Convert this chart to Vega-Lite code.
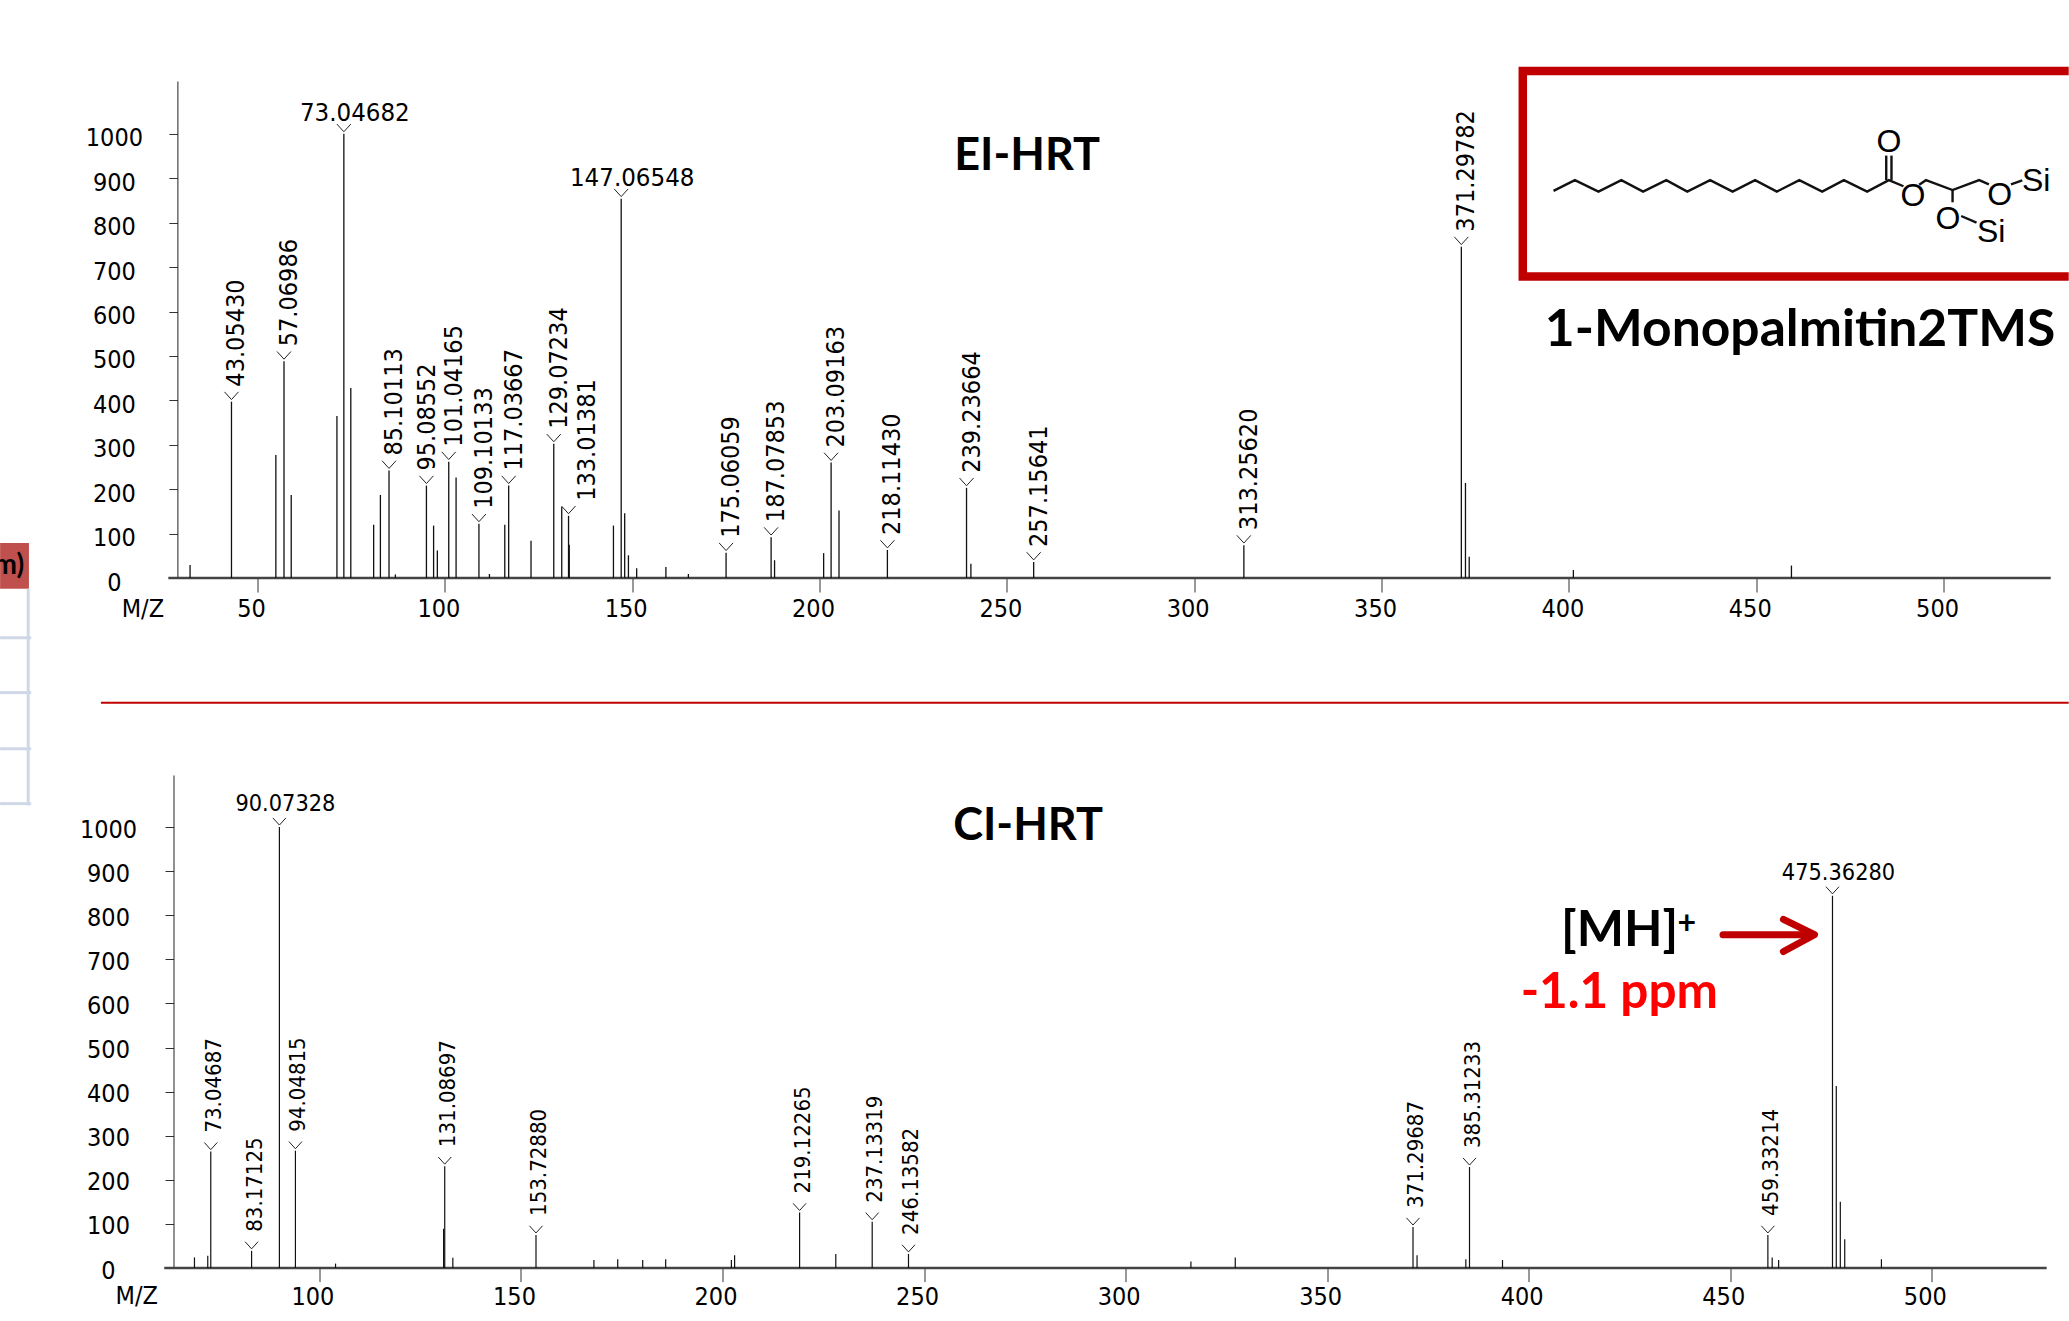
{
"$schema":"https://vega.github.io/schema/vega-lite/v6.json",
"background":"white",
"autosize":{"type":"none"},
"padding":{"left":173.5,"top":81,"right":1895.5,"bottom":1240},
"bounds":"flush",
"spacing":197,
"config":{"view":{"stroke":null},"axis":{"grid":false,"title":null,"labelColor":"#000","labelFont":"DejaVu Sans Condensed","labelFontSize":25,"labelOverlap":false,"labelFlush":false,"labelBaseline":"middle","format":"d"}},
"datasets":{
"top":[
{"mz":32,"int":29},{"mz":43.05430,"int":397,"label":"43.05430"},{"mz":54.9,"int":277},{"mz":57.06986,"int":488,"label":"57.06986"},{"mz":59,"int":187},{"mz":71.2,"int":365},{"mz":73.04682,"int":1000,"label":"73.04682"},{"mz":74.9,"int":428},{"mz":81,"int":120},{"mz":82.8,"int":187},{"mz":85.10113,"int":242,"label":"85.10113"},{"mz":86.8,"int":8},{"mz":95.08552,"int":208,"label":"95.08552"},{"mz":97,"int":118},{"mz":98,"int":62},{"mz":101.04165,"int":262,"label":"101.04165"},{"mz":103,"int":226},{"mz":109.10133,"int":122,"label":"109.10133"},{"mz":111.9,"int":9},{"mz":116,"int":120},{"mz":117.03667,"int":208,"label":"117.03667"},{"mz":123,"int":84},{"mz":129.07234,"int":302,"label":"129.07234"},{"mz":131.2,"int":160},{"mz":133.01381,"int":140,"label":"133.01381"},{"mz":133.2,"int":75},{"mz":145,"int":118},{"mz":147.06548,"int":854,"label":"147.06548"},{"mz":148,"int":146},{"mz":149,"int":51},{"mz":151.2,"int":22},{"mz":159,"int":25},{"mz":165,"int":9},{"mz":175.06059,"int":57,"label":"175.06059"},{"mz":187.07853,"int":92,"label":"187.07853"},{"mz":188,"int":40},{"mz":201.1,"int":56},{"mz":203.09163,"int":260,"label":"203.09163"},{"mz":205.2,"int":152},{"mz":218.1143,"int":63,"label":"218.11430"},{"mz":239.23664,"int":203,"label":"239.23664"},{"mz":240.4,"int":32},{"mz":257.15641,"int":36,"label":"257.15641"},{"mz":313.2562,"int":74,"label":"313.25620"},{"mz":371.29782,"int":746,"label":"371.29782"},{"mz":372.4,"int":214},{"mz":373.4,"int":48},{"mz":401.2,"int":18},{"mz":459.4,"int":28}
],
"bottom":[
{"mz":69,"int":24},{"mz":72.3,"int":28},{"mz":73.04687,"int":264,"label":"73.04687"},{"mz":83.17125,"int":39,"label":"83.17125"},{"mz":90.07328,"int":1000,"label":"90.07328"},{"mz":94.04815,"int":266,"label":"94.04815"},{"mz":104,"int":10},{"mz":130.8,"int":89},{"mz":131.08697,"int":231,"label":"131.08697"},{"mz":133.1,"int":23},{"mz":153.7288,"int":75,"label":"153.72880"},{"mz":168.1,"int":18},{"mz":174,"int":20},{"mz":180.2,"int":18},{"mz":185.9,"int":20},{"mz":202.2,"int":18},{"mz":203,"int":29},{"mz":219.12265,"int":126,"label":"219.12265"},{"mz":228.1,"int":32},{"mz":237.13319,"int":105,"label":"237.13319"},{"mz":246.13582,"int":32,"label":"246.13582"},{"mz":316.2,"int":15},{"mz":327.2,"int":24},{"mz":371.29687,"int":93,"label":"371.29687"},{"mz":372.3,"int":29},{"mz":384.4,"int":20},{"mz":385.31233,"int":229,"label":"385.31233"},{"mz":393.5,"int":18},{"mz":459.33214,"int":75,"label":"459.33214"},{"mz":460.4,"int":24},{"mz":462,"int":18},{"mz":475.3628,"int":844,"label":"475.36280"},{"mz":476.3,"int":413},{"mz":477.3,"int":150},{"mz":478.4,"int":65},{"mz":487.5,"int":20}
],
"segments":[
{"mz":-11.2,"mz2":-11.2,"int":-24,"int2":-512},
{"mz":-18.7,"mz2":-10.4,"int":-134.6,"int2":-134.6},
{"mz":-18.7,"mz2":-10.4,"int":-258,"int2":-258},
{"mz":-18.7,"mz2":-10.4,"int":-384.5,"int2":-384.5},
{"mz":-18.7,"mz2":-10.4,"int":-508,"int2":-508}
],
"bonds":[
{"bond":"chain","seq":1,"mz":395.9,"int":871.7},{"bond":"chain","seq":2,"mz":401.6,"int":895.8},{"bond":"chain","seq":3,"mz":407.9,"int":870},{"bond":"chain","seq":4,"mz":414,"int":895.8},{"bond":"chain","seq":5,"mz":419.8,"int":870},{"bond":"chain","seq":6,"mz":426,"int":895.8},{"bond":"chain","seq":7,"mz":431.6,"int":870},{"bond":"chain","seq":8,"mz":437.7,"int":895.8},{"bond":"chain","seq":9,"mz":443.7,"int":870},{"bond":"chain","seq":10,"mz":449.7,"int":895.8},{"bond":"chain","seq":11,"mz":455.5,"int":870},{"bond":"chain","seq":12,"mz":461.5,"int":895.8},{"bond":"chain","seq":13,"mz":467.6,"int":870},{"bond":"chain","seq":14,"mz":473.4,"int":895.8},{"bond":"chain","seq":15,"mz":479.6,"int":870},{"bond":"chain","seq":16,"mz":485.4,"int":895.8},{"bond":"chain","seq":17,"mz":489.3,"int":882},
{"bond":"glycerol","seq":1,"mz":493.5,"int":885.5},{"bond":"glycerol","seq":2,"mz":495.3,"int":895.8},{"bond":"glycerol","seq":3,"mz":502.4,"int":873.4},{"bond":"glycerol","seq":4,"mz":509.5,"int":895.8},{"bond":"glycerol","seq":5,"mz":512.1,"int":886.4},
{"bond":"co1","seq":1,"mz":484.7,"int":895.8},{"bond":"co1","seq":2,"mz":484.7,"int":951},
{"bond":"co2","seq":1,"mz":486.1,"int":895.8},{"bond":"co2","seq":2,"mz":486.1,"int":951},
{"bond":"branch","seq":1,"mz":502.4,"int":873.4},{"bond":"branch","seq":2,"mz":502.4,"int":846},
{"bond":"osi1","seq":1,"mz":504.7,"int":815},{"bond":"osi1","seq":2,"mz":508.8,"int":800},
{"bond":"osi2","seq":1,"mz":518,"int":886},{"bond":"osi2","seq":2,"mz":521,"int":895}
],
"atoms":[{"mz":485.4,"int":981,"atom":"O"},{"mz":491.8,"int":860.5,"atom":"O"},{"mz":501.2,"int":809,"atom":"O"},{"mz":515,"int":863,"atom":"O"},{"mz":524.7,"int":893,"atom":"Si"},{"mz":512.7,"int":778.7,"atom":"Si"}],
"box":[{"seq":1,"mz":533.4,"int":1141.6},{"seq":2,"mz":387.7,"int":1141.6},{"seq":3,"mz":387.7,"int":679},{"seq":4,"mz":533.4,"int":679}],
"arrow":[
{"part":"shaft","seq":1,"mz":448.2,"int":755.8},{"part":"shaft","seq":2,"mz":469.5,"int":755.8},
{"part":"head","seq":1,"mz":463.2,"int":790.7},{"part":"head","seq":2,"mz":470.9,"int":755.8},{"part":"head","seq":3,"mz":463.2,"int":717.8}
]
},
"vconcat":[
{
"width":1867.1,"height":497,
"encoding":{
"x":{"field":"mz","type":"quantitative","scale":{"domain":[27.58,525.9],"nice":false,"zero":false},"axis":{"values":[50,100,150,200,250,300,350,400,450,500],"domain":false,"tickSize":14,"tickColor":"#333","labelOffset":-6.5,"labelPadding":16}},
"y":{"field":"int","type":"quantitative","scale":{"domain":[0,1119],"nice":false},"axis":{"values":[0,100,200,300,400,500,600,700,800,900,1000],"offset":-3.9,"domainColor":"#222","tickColor":"#333","tickSize":8.5,"labelAlign":"center","labelPadding":55,"labelOffset":4}}
},
"layer":[
{"data":{"values":[{"mz":26.2,"mz2":528.6,"int":0,"int2":0}]},"mark":{"type":"rule","color":"#444","strokeWidth":2.5},"encoding":{"x2":{"field":"mz2"},"y2":{"field":"int2"}}},
{"data":{"name":"top"},"mark":{"type":"rule","color":"#111","strokeWidth":1.3},"encoding":{"y2":{"datum":0}}},
{"data":{"name":"top"},"transform":[{"filter":"datum.label"}],"mark":{"type":"point","shape":"M-1,-1.4L0,-0.3L1,-1.4","filled":false,"stroke":"#222","strokeWidth":1,"size":196,"opacity":1}},
{"data":{"name":"top"},"transform":[{"filter":"datum.label && datum.int<800 && datum.label!='133.01381' && datum.label!='95.08552'"}],"mark":{"type":"text","angle":270,"align":"left","baseline":"middle","dx":15,"dy":5,"font":"DejaVu Sans Condensed","fontSize":25,"color":"#000"},"encoding":{"text":{"field":"label"}}},
{"data":{"name":"top"},"transform":[{"filter":"datum.label=='133.01381'"}],"mark":{"type":"text","angle":270,"align":"left","baseline":"middle","dx":15,"dy":18,"font":"DejaVu Sans Condensed","fontSize":25,"color":"#000"},"encoding":{"text":{"field":"label"}}},
{"data":{"name":"top"},"transform":[{"filter":"datum.label=='95.08552'"}],"mark":{"type":"text","angle":270,"align":"left","baseline":"middle","dx":15,"dy":1,"font":"DejaVu Sans Condensed","fontSize":25,"color":"#000"},"encoding":{"text":{"field":"label"}}},
{"data":{"name":"top"},"transform":[{"filter":"datum.label && datum.int>=800"}],"mark":{"type":"text","align":"center","baseline":"bottom","dx":11,"dy":-8,"font":"DejaVu Sans Condensed","fontSize":25.6,"color":"#000"},"encoding":{"text":{"field":"label"}}},
{"data":{"values":[{"mz":19.4,"int":-69,"t":"M/Z"}]},"mark":{"type":"text","align":"center","baseline":"middle","font":"DejaVu Sans Condensed","fontSize":25,"color":"#000"},"encoding":{"text":{"field":"t"}}},
{"data":{"values":[{"mz":255.4,"int":951,"t":"EI-HRT"}]},"mark":{"type":"text","align":"center","baseline":"middle","font":"Lato","fontWeight":"bold","fontSize":45,"color":"#000"},"encoding":{"text":{"field":"t"}}},
{"data":{"values":[{"mz":461.7,"int":556,"t":"1-Monopalmitin2TMS"}]},"mark":{"type":"text","align":"center","baseline":"middle","font":"Lato","fontWeight":"bold","fontSize":51.6,"color":"#000"},"encoding":{"text":{"field":"t"}}},
{"data":{"values":[{"mz":8.2,"mz2":533.4,"int":-281,"int2":-281}]},"mark":{"type":"rule","color":"#C00000","strokeWidth":2},"encoding":{"x2":{"field":"mz2"},"y2":{"field":"int2"}}},
{"data":{"name":"box"},"mark":{"type":"line","color":"#C00000","strokeWidth":8.5,"strokeJoin":"miter"},"encoding":{"order":{"field":"seq"}}},
{"data":{"name":"bonds"},"mark":{"type":"line","color":"#111","strokeWidth":2.4},"encoding":{"detail":{"field":"bond"},"order":{"field":"seq"}}},
{"data":{"name":"atoms"},"mark":{"type":"text","align":"center","baseline":"middle","font":"Liberation Sans","fontSize":32,"color":"#000"},"encoding":{"text":{"field":"atom"}}},
{"data":{"values":[{"mz":-18.7,"mz2":-11,"int":79,"int2":-24.3}]},"mark":{"type":"rect","color":"#C0504D"},"encoding":{"x2":{"field":"mz2"},"y2":{"field":"int2"}}},
{"data":{"name":"segments"},"mark":{"type":"rule","color":"#D0D8E8","strokeWidth":3},"encoding":{"x2":{"field":"mz2"},"y2":{"field":"int2"}}},
{"data":{"values":[{"mz":-12.3,"int":27,"t":"m)"}]},"mark":{"type":"text","align":"right","baseline":"middle","font":"Lato","fontWeight":"bold","fontSize":28,"color":"#000"},"encoding":{"text":{"field":"t"}}}
]
},
{
"width":1861.5,"height":493,
"encoding":{
"x":{"field":"mz","type":"quantitative","scale":{"domain":[63.8,525.6],"nice":false,"zero":false},"axis":{"values":[100,150,200,250,300,350,400,450,500],"domain":false,"tickSize":13.6,"tickColor":"#333","labelOffset":-7,"labelPadding":15}},
"y":{"field":"int","type":"quantitative","scale":{"domain":[0,1118],"nice":false},"axis":{"values":[0,100,200,300,400,500,600,700,800,900,1000],"domainColor":"#222","tickColor":"#333","tickSize":8.5,"labelAlign":"center","labelPadding":57,"labelOffset":2}}
},
"layer":[
{"data":{"values":[{"mz":61.5,"mz2":528.5,"int":0,"int2":0}]},"mark":{"type":"rule","color":"#444","strokeWidth":2.5},"encoding":{"x2":{"field":"mz2"},"y2":{"field":"int2"}}},
{"data":{"name":"bottom"},"mark":{"type":"rule","color":"#111","strokeWidth":1.2},"encoding":{"y2":{"datum":0}}},
{"data":{"name":"bottom"},"transform":[{"filter":"datum.label"}],"mark":{"type":"point","shape":"M-1,-1.4L0,-0.3L1,-1.4","filled":false,"stroke":"#222","strokeWidth":1,"size":170,"opacity":1}},
{"data":{"name":"bottom"},"transform":[{"filter":"datum.label && datum.int<800"}],"mark":{"type":"text","angle":270,"align":"left","baseline":"middle","dx":19,"dy":3,"font":"DejaVu Sans Condensed","fontSize":22,"color":"#000"},"encoding":{"text":{"field":"label"}}},
{"data":{"name":"bottom"},"transform":[{"filter":"datum.label && datum.int>=800"}],"mark":{"type":"text","align":"center","baseline":"bottom","dx":6,"dy":-11,"font":"DejaVu Sans Condensed","fontSize":23.3,"color":"#000"},"encoding":{"text":{"field":"label"}}},
{"data":{"values":[{"mz":54.7,"int":-63.5,"t":"M/Z"}]},"mark":{"type":"text","align":"center","baseline":"middle","font":"DejaVu Sans Condensed","fontSize":25,"color":"#000"},"encoding":{"text":{"field":"t"}}},
{"data":{"values":[{"mz":275.8,"int":1002,"t":"CI-HRT"}]},"mark":{"type":"text","align":"center","baseline":"middle","font":"Lato","fontWeight":"bold","fontSize":45,"color":"#000"},"encoding":{"text":{"field":"t"}}},
{"data":{"values":[{"mz":408,"int":764,"t":"[MH]"}]},"mark":{"type":"text","align":"left","baseline":"middle","font":"Lato","fontWeight":"bold","fontSize":50,"color":"#000"},"encoding":{"text":{"field":"t"}}},
{"data":{"values":[{"mz":439.2,"int":781,"t":"+"}]},"mark":{"type":"text","align":"center","baseline":"middle","font":"Lato","fontWeight":"bold","fontSize":32,"color":"#000"},"encoding":{"text":{"field":"t"}}},
{"data":{"values":[{"mz":398,"int":624,"t":"-1.1 ppm"}]},"mark":{"type":"text","align":"left","baseline":"middle","font":"Lato","fontWeight":"bold","fontSize":49.5,"color":"#FF0000"},"encoding":{"text":{"field":"t"}}},
{"data":{"name":"arrow"},"mark":{"type":"line","color":"#C00000","strokeWidth":7,"strokeCap":"round","strokeJoin":"round"},"encoding":{"detail":{"field":"part"},"order":{"field":"seq"}}}
]
}
]
}
